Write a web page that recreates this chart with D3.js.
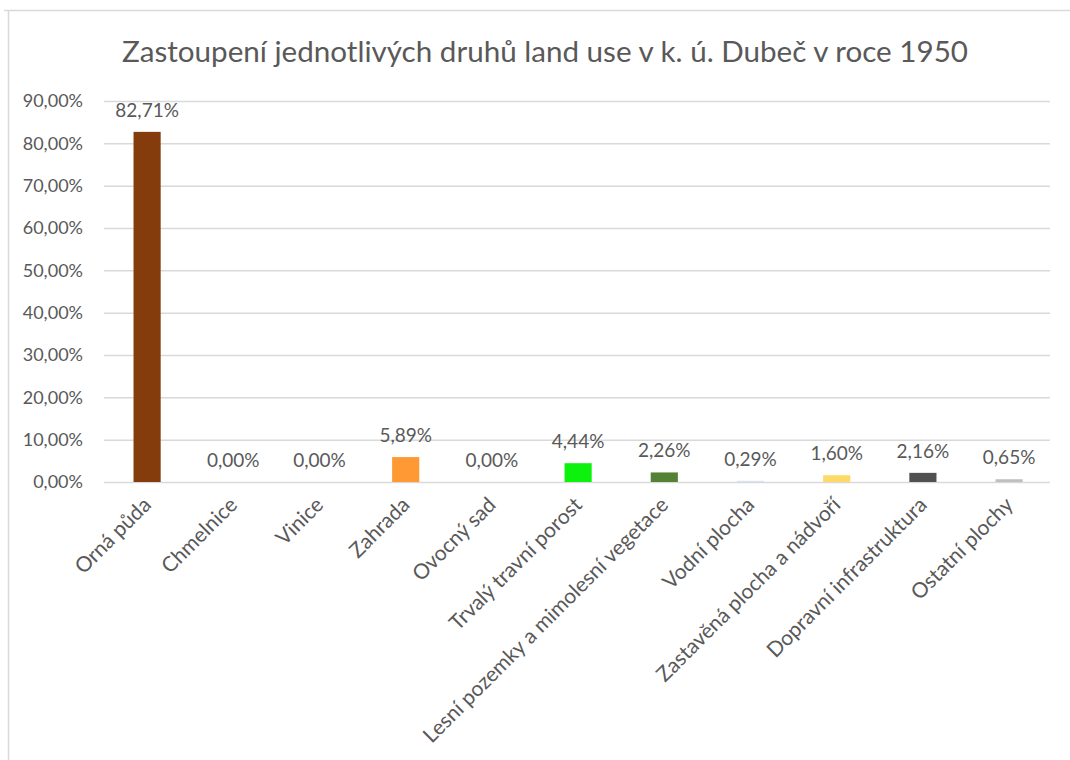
<!DOCTYPE html>
<html>
<head>
<meta charset="utf-8">
<script src="https://cdn.jsdelivr.net/npm/d3@7"></script>
<style>
  body { margin: 0; background: #fff; }
  text { font-family: Lato, "Open Sans", sans-serif; fill: #595959; }
</style>
</head>
<body>
<div id="chart"></div>
<script>
var categories = ["Orná půda", "Chmelnice", "Vinice", "Zahrada", "Ovocný sad",
  "Trvalý travní porost", "Lesní pozemky a mimolesní vegetace", "Vodní plocha",
  "Zastavěná plocha a nádvoří", "Dopravní infrastruktura", "Ostatní plochy"];
var values = [82.71, 0.00, 0.00, 5.89, 0.00, 4.44, 2.26, 0.29, 1.60, 2.16, 0.65];
var barColors = ["#843c0c", "#a5a5a5", "#a5a5a5", "#ff9933", "#a5a5a5", "#0df20d",
  "#548235", "#dae3f3", "#ffd966", "#505050", "#bfbfbf"];
var yTicks = [0, 10, 20, 30, 40, 50, 60, 70, 80, 90];
var title = "Zastoupení jednotlivých druhů land use v k. ú. Dubeč v roce 1950";

var W = 1070, H = 760;
var margin = { top: 101, right: 20, bottom: 278, left: 104 };
var width = W - margin.left - margin.right,
  height = H - margin.top - margin.bottom;

var svg = d3.select("#chart").append("svg")
  .attr("width", W)
  .attr("height", H);

// chart frame (only top and left edges visible in the picture)
svg.append("line").attr("x1", 4).attr("x2", W).attr("y1", 10.5).attr("y2", 10.5)
  .attr("stroke", "#d9d9d9").attr("stroke-width", 1.5);
svg.append("line").attr("x1", 8.5).attr("x2", 8.5).attr("y1", 10).attr("y2", H)
  .attr("stroke", "#d9d9d9").attr("stroke-width", 1.5);

svg.append("text")
  .attr("x", 545).attr("y", 62)
  .attr("text-anchor", "middle")
  .style("font-size", "29.6px")
  .text(title);

var x = d3.scaleBand().domain(categories).range([0, 11 * 86.2]).paddingInner(0.685).paddingOuter(0.3425);
var y = d3.scaleLinear().domain([0, 90]).range([height, 0]);

var g = svg.append("g").attr("transform", "translate(" + margin.left + "," + margin.top + ")");

var fmt = function (v) { return d3.format(".2f")(v).replace(".", ",") + "%"; };

// gridlines + y labels
var yAxis = d3.axisLeft(y).tickValues(yTicks).tickSize(-width).tickFormat(fmt);
g.append("g").attr("class", "y axis").call(yAxis)
  .call(function (s) {
    s.select(".domain").remove();
    s.selectAll(".tick line").attr("stroke", "#d9d9d9").attr("stroke-width", 1.5);
    s.selectAll(".tick text").attr("x", -21).style("font-size", "18px").attr("fill", "#595959");
  });

// bars
g.selectAll(".bar").data(values).enter().append("rect")
  .attr("class", "bar")
  .attr("x", function (d, i) { return x(categories[i]); })
  .attr("width", x.bandwidth())
  .attr("y", function (d) { return y(d); })
  .attr("height", function (d) { return height - y(d); })
  .attr("fill", function (d, i) { return barColors[i]; });

// data labels
g.selectAll(".lbl").data(values).enter().append("text")
  .attr("class", "lbl")
  .attr("x", function (d, i) { return x(categories[i]) + x.bandwidth() / 2; })
  .attr("y", function (d) { return y(d) - 15; })
  .attr("text-anchor", "middle")
  .style("font-size", "19px")
  .text(fmt);

// x axis labels
var xAxis = d3.axisBottom(x).tickSize(0);
g.append("g").attr("class", "x axis")
  .attr("transform", "translate(0," + height + ")")
  .call(xAxis)
  .call(function (s) {
    s.select(".domain").remove();
    s.selectAll(".tick text")
      .style("font-size", "21px")
      .attr("fill", "#595959")
      .attr("text-anchor", "end")
      .attr("x", 0).attr("y", 0).attr("dy", "0.35em")
      .attr("transform", "translate(0,19) rotate(-45)");
  });
</script>
</body>
</html>
